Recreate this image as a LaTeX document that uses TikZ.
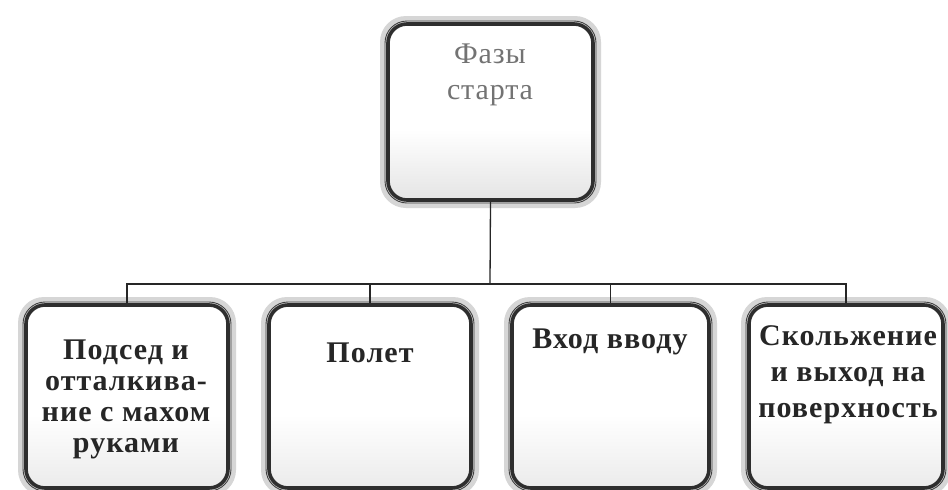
\documentclass[tikz,border=0pt]{standalone}
\usepackage{fontspec}
\setmainfont{Liberation Serif}
\newfontfamily\boxfont[LetterSpace=3.5]{Liberation Serif}
\newfontfamily\topfont[LetterSpace=3]{Liberation Serif}
\pgfdeclareverticalshading{topgrad}{100bp}{color(0bp)=(black!38); color(22bp)=(black!12); color(45bp)=(white); color(100bp)=(white)}
\pgfdeclareverticalshading{botgrad}{100bp}{color(0bp)=(black!40); color(25bp)=(black!8); color(45bp)=(white); color(80bp)=(white); color(92bp)=(black!18); color(100bp)=(black!28)}
\tikzset{
  halo/.style={fill=black!16, rounded corners=26pt},
  rim/.style={draw=black!75, line width=0.9pt, rounded corners=22pt},
  phase/.style={draw=black!82, line width=3.6pt, rounded corners=19pt, inner sep=0pt},
  wire/.style={draw=black!85, line width=1.3pt},
  toptext/.style={font=\topfont\fontsize{30}{36}\selectfont, text=black!55, align=center},
  bottext/.style={font=\boxfont\bfseries\fontsize{30}{31}\selectfont, text=black!85, align=center, anchor=north}
}
\newcommand\phasebox[6]{%
  \fill[halo] (#2-8,#3-8) rectangle (#4+8,#5+8);
  \draw[rim] (#2-3,#3-3) rectangle (#4+3,#5+3);
  \node[phase, shading=#6, minimum width={(#4-#2)*1pt}, minimum height={(#5-#3)*1pt}] (#1) at ({(#2+#4)/2},{(#3+#5)/2}) {};
}
\begin{document}
\begin{tikzpicture}[x=1pt,y=-1pt]
\useasboundingbox (0,0) rectangle (948,490);
\clip (0,0) rectangle (948,490);
\fill[white] (0,0) rectangle (948,490);
% boxes
\phasebox{top}{388}{24}{593}{200}{topgrad}
\phasebox{b1}{26}{305}{228}{488}{botgrad}
\phasebox{b2}{269}{305}{471}{488}{botgrad}
\phasebox{b3}{512}{305}{709}{488}{botgrad}
\phasebox{b4}{749}{305}{943}{488}{botgrad}
% texts
\node[toptext, anchor=north] (ttop) at (490,40) {Фазы\\старта};
\node[bottext] (t1) at (126,336) {Подсед и\\отталкива-\\ние с махом\\руками};
\node[bottext] (t2) at (370,339) {Полет};
\node[bottext] (t3) at (610,325) {Вход вводу};
\node[bottext, font=\boxfont\bfseries\fontsize{30}{36}\selectfont] (t4) at (848,322) {Скольжение\\и выход на\\поверхность};
% connectors
\coordinate (bus) at (490,284);
\draw[wire] (top.south) -- (bus);
\draw[wire] (bus) -| (b1.north);
\draw[wire] (bus) -| (b2.north);
\draw[wire] (bus) -| (b3.north);
\draw[wire] (bus) -| (b4.north);
\end{tikzpicture}
\end{document}
